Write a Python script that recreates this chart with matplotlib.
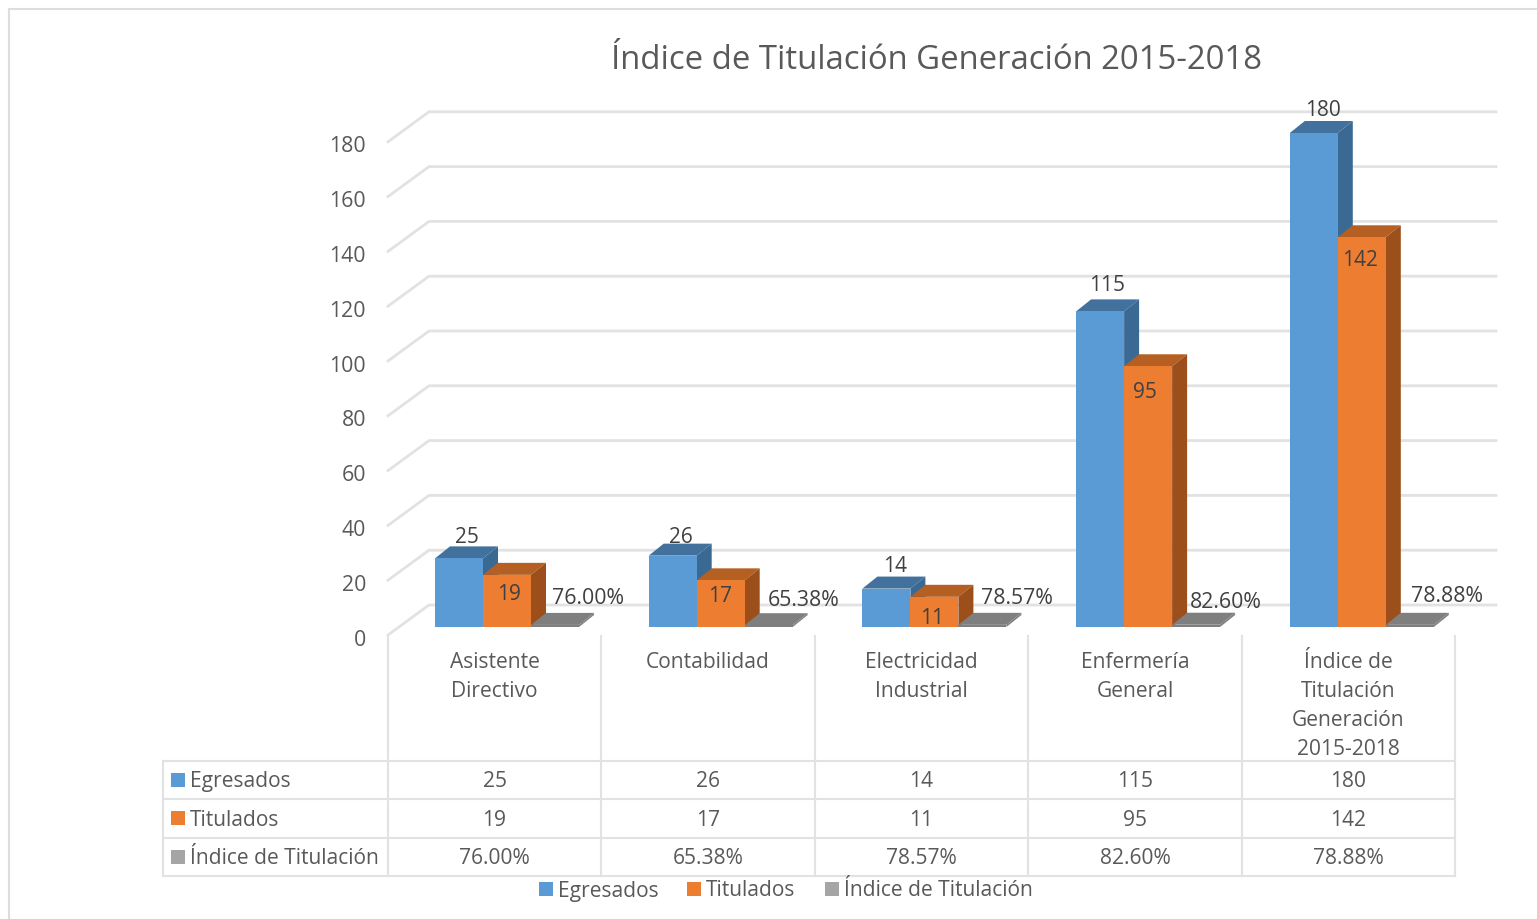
import matplotlib as mpl
mpl.use('Agg')
import matplotlib.pyplot as plt
from matplotlib.patches import Polygon, Rectangle

categorias = [["Asistente", "Directivo"], ["Contabilidad"], ["Electricidad", "Industrial"],
              ["Enfermería", "General"], ["Índice de", "Titulación", "Generación", "2015-2018"]]
egresados = [25, 26, 14, 115, 180]
titulados = [19, 17, 11, 95, 142]
indice = [76.00, 65.38, 78.57, 82.60, 78.88]
y_ticks = [0, 20, 40, 60, 80, 100, 120, 140, 160, 180]
titulo = "Índice de Titulación Generación 2015-2018"
series_nombres = ["Egresados", "Titulados", "Índice de Titulación"]

plt.rcParams['font.family'] = ['Open Sans', 'DejaVu Sans']
W, H = 1537, 919
TXT = '#595959'
GRID = '#e2e2e2'
fig = plt.figure(figsize=(W / 100, H / 100), dpi=100)
ax = fig.add_axes([0, 0, 1, 1])
ax.set_xlim(0, W)
ax.set_ylim(H, 0)
ax.axis('off')

# marco
ax.add_patch(Rectangle((9, 9), W, H, fc='white', ec='#dddddd', lw=1.5))
ax.text(937, 60.6, titulo, fontsize=23.7, color=TXT, ha='center', va='center')

# escala: valor -> pixel (cara frontal)
y0 = 627.0
esc = (627.0 - 133.0) / 180


def vy(v):
    return y0 - v * esc


# pared y piso
x_iz = 388
for t in y_ticks:
    yf = 635 - t * 2.74
    ax.plot([x_iz, x_iz + 41, 1496], [yf, yf - 30, yf - 30], color=GRID, lw=2, zorder=1)
    ax.text(366, yf + 5, str(t), fontsize=15.3, color=TXT, ha='right', va='center')


def barra(x, ancho, v, frente, arriba, lado, prof=(15, 12)):
    top = vy(v)
    p, q = prof
    ax.add_patch(Polygon([(x, top), (x + p, top - q), (x + ancho + p, top - q), (x + ancho, top)],
                         fc=arriba, ec='none', zorder=3))
    ax.add_patch(Polygon([(x + ancho, top), (x + ancho + p, top - q), (x + ancho + p, y0 - q), (x + ancho, y0)],
                         fc=lado, ec='none', zorder=3))
    ax.add_patch(Rectangle((x, top), ancho, y0 - top, fc=frente, ec='none', zorder=4))


inicio = 435
paso = 213.7
ancho = 48
# ajuste fino de las etiquetas de datos
eg_dy = [-21, -18, -22, -26, -23]
eg_x = [32, 32, 33, 31, 33]
ti_x = [26, 23, 22, 21, 22]
ti_dy = [20, 16, 22, 26, 23]
in_x = [153, 155, 155, 150, 157]
in_y = [598, 601, 599, 602, 597]
for i in range(5):
    x = inicio + i * paso
    barra(x, ancho, egresados[i], '#5b9bd5', '#41719c', '#3a6a94')
    barra(x + ancho, ancho, titulados[i], '#ed7d31', '#b65f22', '#9c4f1b')
    # indice: valor casi cero en la escala
    barra(x + 2 * ancho, ancho, indice[i] / 100, '#7f7f7f', '#7f7f7f', '#7f7f7f')
    ax.text(x + eg_x[i], vy(egresados[i]) + eg_dy[i], str(egresados[i]), fontsize=15, color='#404040', ha='center', va='center', zorder=6)
    ax.text(x + ancho + ti_x[i], vy(titulados[i]) + ti_dy[i], str(titulados[i]), fontsize=15, color='#404040', ha='center', va='center', zorder=6)
    ax.text(x + in_x[i], in_y[i], f"{indice[i]:.2f}%", fontsize=15.3, color='#404040', ha='center', va='center', zorder=6)

# tabla de datos
x_cols = [163, 388, 601, 815, 1028, 1242, 1455]
y_fil = [761, 799, 838, 876]
for y in y_fil:
    ax.plot([163, 1455], [y, y], color=GRID, lw=1.5)
ax.plot([163, 163], [761, 876], color=GRID, lw=1.5)
for x in x_cols[1:]:
    ax.plot([x, x], [636, 876], color=GRID, lw=1.5)

for i, lineas in enumerate(categorias):
    cx = (x_cols[i + 1] + x_cols[i + 2]) / 2
    for j, s in enumerate(lineas):
        ax.text(cx, 662 + j * 29.3, s, fontsize=15.1, color=TXT, ha='center', va='center')

colores = ['#5b9bd5', '#ed7d31', '#a5a5a5']
valores = [[str(v) for v in egresados], [str(v) for v in titulados], [f"{v:.2f}%" for v in indice]]
for f, nombre in enumerate(series_nombres):
    yc = (y_fil[f] + y_fil[f + 1]) / 2 + 1.5
    ax.add_patch(Rectangle((171, yc - 9), 14, 14, fc=colores[f], ec='none'))
    ax.text(190, yc, nombre, fontsize=15.1, color=TXT, ha='left', va='center')
    for i, s in enumerate(valores[f]):
        ax.text((x_cols[i + 1] + x_cols[i + 2]) / 2, yc, s, fontsize=15.1, color=TXT, ha='center', va='center')

# leyenda
for x, nombre, c in zip([539, 687, 825], series_nombres, colores):
    ax.add_patch(Rectangle((x, 882), 14, 14, fc=c, ec='none'))
    ax.text(x + 19, 891, nombre, fontsize=15.1, color=TXT, ha='left', va='center')

plt.savefig('out.png', dpi=100)
plt.close()
